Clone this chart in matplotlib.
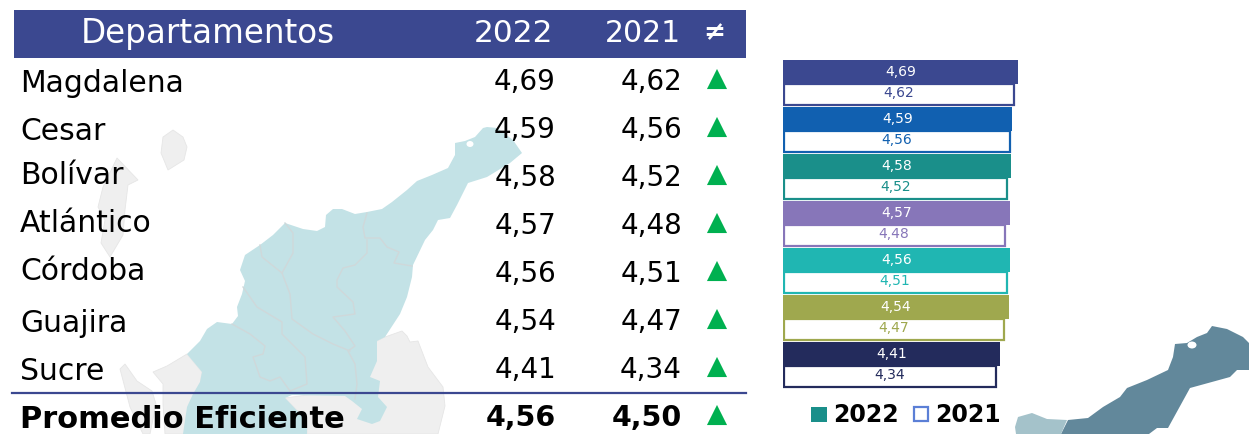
#!/usr/bin/env python3
"""Departamentos table with paired bars and a map behind it."""

import matplotlib
matplotlib.use("Agg")
import matplotlib.pyplot as plt
from matplotlib.patches import Ellipse, Polygon, Rectangle

# data
DEPARTMENTS = ["Magdalena", "Cesar", "Bolívar", "Atlántico", "Córdoba", "Guajira", "Sucre"]
VALUES_2022 = [4.69, 4.59, 4.58, 4.57, 4.56, 4.54, 4.41]
VALUES_2021 = [4.62, 4.56, 4.52, 4.48, 4.51, 4.47, 4.34]
AVERAGE_LABEL = "Promedio Eficiente"
AVERAGE_2022 = 4.56
AVERAGE_2021 = 4.50
BAR_COLORS = ["#3B4890", "#1160B0", "#1A8F8A", "#8776B9", "#20B6B2", "#9FA84E", "#232B5C"]

# layout, in reference pixels
W, H = 1249, 434
LABEL_Y = [83, 131, 175, 223, 271, 323, 371, 419]
VALUE_Y = [82, 130, 178, 226, 274, 322, 370, 418]
BAR_TOP = [60, 107, 154, 201, 248, 295, 342]
BAR_X0 = 0.96        # value sitting on the left edge of the bars
BAR_PX_PER_UNIT = 63
BAR_LEFT_PX = 783
FONT = "DejaVu Sans"
NAVY = "#3B4890"
GREEN = "#00B050"
MAP_TEAL = "#C3E2E6"
MAP_GRAY = "#EFEFEF"
MAP_LINE = "#CFD8DA"

TEAL_OUTLINE = [
    (487, 127), (497, 128), (513, 140), (522, 153), (510, 163), (487, 177), (468, 183),
    (457, 205), (450, 218), (438, 220), (433, 230), (425, 240), (413, 265), (412, 277),
    (407, 297), (400, 314), (385, 337), (377, 341), (377, 361), (370, 377), (380, 381),
    (378, 397), (387, 407), (380, 421), (372, 424), (357, 419), (362, 409), (352, 401),
    (345, 396), (292, 395), (285, 398), (307, 421), (307, 434), (183, 434), (187, 407),
    (193, 394), (200, 382), (202, 372), (187, 354), (200, 341), (207, 329), (217, 322),
    (232, 324), (238, 316), (237, 307), (242, 294), (245, 281), (240, 270), (245, 255),
    (260, 245), (273, 235), (285, 223), (303, 229), (317, 231), (325, 227), (326, 215),
    (333, 209), (342, 209), (355, 214), (367, 212), (382, 209), (392, 202), (407, 190),
    (417, 181), (432, 175), (448, 168), (455, 155), (455, 143), (465, 141), (475, 137),
    (483, 128),
]
GRAY_SHAPES = [
    [(173, 130), (183, 137), (187, 147), (184, 160), (168, 170), (161, 153), (163, 137)],
    [(117, 158), (138, 180), (128, 185), (125, 210), (123, 235), (110, 257), (101, 243),
     (105, 220), (98, 207), (103, 187)],
    [(187, 354), (167, 366), (153, 372), (163, 384), (163, 404), (165, 434), (190, 434),
     (200, 385), (202, 372)],
    [(120, 369), (125, 364), (137, 381), (152, 391), (156, 404), (150, 434), (143, 434),
     (130, 407)],
    [(377, 341), (385, 337), (402, 331), (407, 336), (410, 342), (418, 341), (428, 367),
     (443, 387), (445, 406), (438, 434), (307, 434), (307, 421), (285, 398), (345, 390)],
]
BORDERS = [
    [(367, 213), (363, 227), (365, 238), (380, 238), (387, 247), (399, 252), (394, 263), (412, 266)],
    [(367, 240), (367, 253), (355, 265), (343, 268), (337, 280), (337, 287), (353, 302),
     (355, 314), (333, 317), (345, 331), (355, 346), (348, 351), (355, 364), (357, 384), (355, 399)],
    [(282, 273), (290, 294), (292, 319), (313, 334), (333, 344), (350, 351)],
    [(243, 287), (257, 307), (282, 322), (282, 334), (305, 357), (307, 384), (290, 391)],
    [(232, 324), (250, 334), (265, 346), (263, 354), (253, 357), (260, 377), (270, 381),
     (280, 377), (290, 391)],
    [(260, 245), (262, 257), (282, 273), (293, 253), (293, 233), (285, 223)],
]
DARK_MAP = [
    (1061, 434), (1068, 420), (1088, 418), (1103, 407), (1120, 397), (1127, 388), (1147, 380),
    (1168, 370), (1173, 357), (1175, 344), (1187, 343), (1197, 337), (1207, 333), (1212, 326),
    (1227, 329), (1243, 337), (1249, 343), (1249, 370), (1237, 370), (1230, 377), (1190, 388),
    (1168, 428), (1157, 428), (1149, 434),
]
LIGHT_MAP = [(1015, 427), (1018, 417), (1032, 413), (1047, 419), (1067, 420), (1061, 434), (1016, 434)]


def comma(value):
    return f"{value:.2f}".replace(".", ",")


def draw_map(ax):
    for shape in GRAY_SHAPES:
        ax.add_patch(Polygon(shape, fc=MAP_GRAY, ec="#E6E6E6", lw=0.6, zorder=1))
    ax.add_patch(Polygon(TEAL_OUTLINE, fc=MAP_TEAL, ec="none", zorder=2))
    ax.add_patch(Ellipse((470, 144), 7, 6, fc="white", ec="none", zorder=2.5))
    for line in BORDERS:
        ax.plot(*zip(*line), color=MAP_LINE, lw=1.0, zorder=3)
    ax.add_patch(Polygon(DARK_MAP, fc="#62889B", ec="none", zorder=2))
    ax.add_patch(Polygon(LIGHT_MAP, fc="#A4C2CA", ec="none", zorder=2))
    ax.add_patch(Ellipse((1192, 345), 9, 7, fc="white", ec="none", zorder=2.5))


def draw_table(ax):
    ax.add_patch(Rectangle((14, 10), 732, 48, fc=NAVY, ec="none", zorder=4))
    ax.plot([12, 746], [393, 393], color=NAVY, lw=1.6, zorder=4)

    ax.text(208, 33, "Departamentos", color="white", fontsize=23.5, ha="center", va="center", zorder=5)
    ax.text(514, 33, "2022", color="white", fontsize=22.5, ha="center", va="center", zorder=5)
    ax.text(643, 33, "2021", color="white", fontsize=21.5, ha="center", va="center", zorder=5)
    ax.text(714, 33, "≠", color="white", fontsize=19, fontweight="bold", ha="center", va="center", zorder=5)

    rows_2022 = VALUES_2022 + [AVERAGE_2022]
    rows_2021 = VALUES_2021 + [AVERAGE_2021]
    labels = DEPARTMENTS + [AVERAGE_LABEL]
    for i, label in enumerate(labels):
        is_avg = label == AVERAGE_LABEL
        weight = "bold" if is_avg else "normal"
        ax.text(20, LABEL_Y[i], label, fontsize=22 if is_avg else 21.5, fontweight=weight, color="black",
                va="center", zorder=5)
        ax.text(556, VALUE_Y[i], comma(rows_2022[i]), fontsize=20.5 if is_avg else 20, fontweight=weight,
                color="black", ha="right", va="center", zorder=5)
        ax.text(682, VALUE_Y[i], comma(rows_2021[i]), fontsize=20.5 if is_avg else 20, fontweight=weight,
                color="black", ha="right", va="center", zorder=5)
        # every row went up against 2021
        marker = "^" if rows_2022[i] > rows_2021[i] else "v"
        ax.scatter([717], [VALUE_Y[i] - 3], marker=marker, s=210, c=GREEN, edgecolors="none", zorder=5)


def draw_bars(ax):
    inset = 1 / BAR_PX_PER_UNIT
    for i in range(len(DEPARTMENTS)):
        color = BAR_COLORS[i]
        top = BAR_TOP[i]
        # outlined 2021 bar sits under the solid 2022 bar
        ax.barh(top + 34, VALUES_2021[i] - BAR_X0 - inset, height=21, left=BAR_X0 + inset,
                facecolor="white", edgecolor=color, linewidth=1.6, zorder=2)
        ax.barh(top + 12, VALUES_2022[i] - BAR_X0, height=24, left=BAR_X0, color=color, zorder=3)
        ax.text((BAR_X0 + VALUES_2022[i]) / 2, top + 12, comma(VALUES_2022[i]), color="white",
                fontsize=10, ha="center", va="center", zorder=4)
        ax.text((BAR_X0 + VALUES_2021[i]) / 2, top + 33, comma(VALUES_2021[i]), color=color,
                fontsize=10, ha="center", va="center", zorder=4)


def draw_legend(ax):
    ax.add_patch(Rectangle((811, 407), 16, 15, fc="#1A8F8A", ec="none", zorder=5))
    ax.text(833, 415, "2022", fontsize=17, fontweight="bold", va="center", zorder=5)
    ax.add_patch(Rectangle((914, 407), 14, 14, fc="white", ec="#5B7FD6", lw=1.6, zorder=5))
    ax.text(935, 415, "2021", fontsize=17, fontweight="bold", va="center", zorder=5)


def main():
    plt.rcParams["font.family"] = [FONT]
    fig = plt.figure(figsize=(W / 100, H / 100), dpi=100)
    ax = fig.add_axes([0, 0, 1, 1])
    ax.set_xlim(0, W)
    ax.set_ylim(H, 0)
    ax.axis("off")

    # bars get their own value axis, pinned to the pixel strip they occupy
    bar_width_px = 260
    ax_bars = fig.add_axes([BAR_LEFT_PX / W, 0, bar_width_px / W, 1])
    ax_bars.set_xlim(BAR_X0, BAR_X0 + bar_width_px / BAR_PX_PER_UNIT)
    ax_bars.set_ylim(H, 0)
    ax_bars.axis("off")
    ax_bars.patch.set_alpha(0)

    draw_map(ax)
    draw_table(ax)
    draw_legend(ax)
    draw_bars(ax_bars)

    fig.savefig("out.png", dpi=100)
    plt.close(fig)


if __name__ == "__main__":
    main()
